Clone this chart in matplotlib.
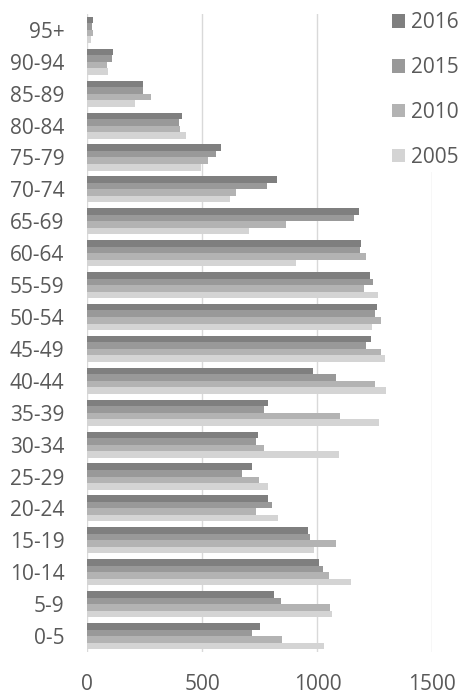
import numpy as np
import matplotlib
matplotlib.use("Agg")
import matplotlib.pyplot as plt

plt.rcParams['font.family'] = ['Open Sans', 'DejaVu Sans']

age_groups = ["0-5", "5-9", "10-14", "15-19", "20-24", "25-29", "30-34", "35-39",
              "40-44", "45-49", "50-54", "55-59", "60-64", "65-69", "70-74",
              "75-79", "80-84", "85-89", "90-94", "95+"]

pop_2016 = [749, 813, 1007, 960, 785, 715, 741, 785, 980, 1234,
            1260, 1229, 1189, 1179, 825, 581, 413, 240, 110, 25]
pop_2015 = [717, 842, 1026, 968, 804, 674, 733, 768, 1082, 1212,
            1251, 1241, 1186, 1158, 781, 561, 397, 240, 106, 18]
pop_2010 = [846, 1055, 1052, 1083, 735, 746, 767, 1099, 1251, 1277,
            1277, 1203, 1212, 862, 648, 524, 402, 276, 85, 25]
pop_2005 = [1028, 1064, 1148, 986, 829, 784, 1093, 1266, 1299, 1292,
            1238, 1263, 909, 703, 619, 493, 430, 205, 89, 15]

series = [("2016", pop_2016, "#7f7f7f"),
          ("2015", pop_2015, "#999999"),
          ("2010", pop_2010, "#b3b3b3"),
          ("2005", pop_2005, "#d4d4d4")]

fig = plt.figure(figsize=(4.6, 6.97), dpi=100)
ax = fig.add_axes([0.190, 0.0646, 0.750, 0.9154])

y = np.arange(len(age_groups))
h = 0.204
offsets = [1.5, 0.5, -0.5, -1.5]
for (label, vals, col), off in zip(series, offsets):
    ax.barh(y + off * h, vals, height=h, color=col, label=label, zorder=2)

ax.set_ylim(-0.5, len(age_groups) - 0.5)
ax.set_xlim(0, 1500)
ax.set_xticks([0, 500, 1000, 1500])
ax.set_yticks(y)
ax.set_yticklabels(age_groups)
ax.tick_params(axis='both', length=0, labelsize=15, colors='#595959')
ax.tick_params(axis='y', pad=16.5)
ax.tick_params(axis='x', pad=16)
ax.grid(axis='x', color='#d9d9d9', linewidth=1, zorder=0)
for s in ax.spines.values():
    s.set_visible(False)

leg = ax.legend(loc='upper left', bbox_to_anchor=(388 / 460, 1 - 8 / 697),
                bbox_transform=fig.transFigure, frameon=True,
                fontsize=15, handlelength=0.62, handleheight=0.62,
                handletextpad=0.3, labelspacing=1.15, borderpad=0.2,
                borderaxespad=0)
leg.get_frame().set_facecolor('white')
leg.get_frame().set_edgecolor('none')
leg.get_frame().set_alpha(1)
for t in leg.get_texts():
    t.set_color('#595959')

fig.savefig("out.png", dpi=100)
